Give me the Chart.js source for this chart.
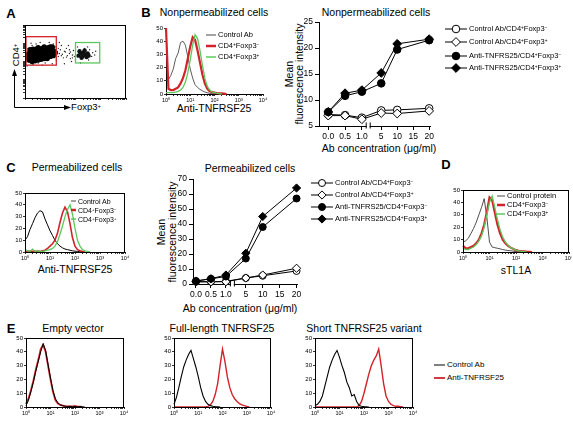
<!DOCTYPE html>
<html>
<head>
<meta charset="utf-8">
<script src="https://cdn.jsdelivr.net/npm/chart.js@4.4.1/dist/chart.umd.min.js"></script>
<style>
  body { margin:0; width:573px; height:421px; position:relative; overflow:hidden; background:#fff;
         font-family:"Liberation Sans", Arial, sans-serif; color:#000; }
  canvas { position:absolute; }
  .t { position:absolute; white-space:nowrap; line-height:1; transform:translate(-50%,-50%); }
  .v { position:absolute; white-space:nowrap; line-height:1; transform:translate(-50%,-50%) rotate(-90deg); }
  .p { font-weight:bold; font-size:13px; }
  .h { font-size:10.5px; }
  sup { font-size:0.62em; vertical-align:0.45em; line-height:0; }
  .lg { position:absolute; display:flex; align-items:center; white-space:nowrap; transform:translateY(-50%); line-height:1; }
  .lg svg { display:block; margin-right:2px; }
</style>
</head>
<body>

<!-- panel letters and titles -->
<div class="t p" style="left:11px;top:13px">A</div>
<div class="t p" style="left:146px;top:12px">B</div>
<div class="t p" style="left:11px;top:167px">C</div>
<div class="t p" style="left:446px;top:164px">D</div>
<div class="t p" style="left:11px;top:328px">E</div>

<div class="t h" style="left:214px;top:12px">Nonpermeabilized cells</div>
<div class="t h" style="left:376px;top:12px">Nonpermeabilized cells</div>
<div class="t h" style="left:77px;top:167px">Permeabilized cells</div>
<div class="t h" style="left:250px;top:168px">Permeabilized cells</div>
<div class="t h" style="left:73px;top:328px">Empty vector</div>
<div class="t h" style="left:222px;top:328px">Full-length TNFRSF25</div>
<div class="t h" style="left:364px;top:328px">Short TNFRSF25 variant</div>

<div class="t h" style="left:214px;top:108px">Anti-TNFRSF25</div>
<div class="t h" style="left:75px;top:269px">Anti-TNFRSF25</div>
<div class="t h" style="left:516px;top:270px">sTL1A</div>

<div class="t h" style="left:379px;top:148px">Ab concentration (μg/ml)</div>
<div class="t h" style="left:240px;top:308px">Ab concentration (μg/ml)</div>
<div class="v h" style="left:289px;top:74px">Mean</div>
<div class="v h" style="left:299px;top:74px">fluorescence intensity</div>
<div class="v h" style="left:161px;top:232px">Mean</div>
<div class="v h" style="left:172px;top:232px">fluorescence intensity</div>

<div class="v" style="left:16px;top:55px;font-size:9.5px">CD4<sup>+</sup></div>
<div class="t" style="left:86px;top:107px;font-size:9.5px">Foxp3<sup>+</sup></div>
<svg style="position:absolute;left:0;top:0" width="120" height="115">
  <path d="M14.5 107.5 V74 M14.5 107.5 H66" stroke="#000" stroke-width="1" fill="none"/>
  <polygon points="14.5,69 12,76 17,76" fill="#000"/>
  <polygon points="71,107.5 64,105 64,110" fill="#000"/>
</svg>

<script>
const FONT = '"Liberation Sans", Arial, sans-serif';
Chart.defaults.font.family = FONT;
Chart.defaults.color = '#000';

// ---------- panel A: dot plot (arbitrary units 0-100) ----------
const aCore = [[4,57],[6,55],[6,60],[8,58],[8,63],[10,56],[10,61],[12,59],[12,64],[14,57],[14,62],
  [16,60],[16,65],[18,58],[18,63],[20,61],[20,66],[22,59],[22,64],[24,62],[24,67],[26,63],[27,66],
  [9,53],[15,54],[21,56],[5,63],[11,67],[17,68],[23,69],[3,60],[28,61],
  [4,52],[7,50],[10,51],[13,52],[16,53],[19,54],[22,54],[25,57],[28,58],[5,66],[8,67],[13,69],
  [19,70],[25,70],[27,70],[29,64],[30,62],[3,55]];
const aFoxCore = [[53,58],[55,61],[57,57],[58,62],[60,59],[62,61],[56,55],[61,56],[54,64],[59,65],[63,58]];
const aSparse = [[2,50],[3,68],[7,72],[13,48],[19,72],[25,55],[29,60],[30,70],[32,63],[33,57],[35,66],
  [37,60],[38,55],[40,63],[42,58],[44,61],[45,54],[47,59],[48,65],[50,52],[36,72],[41,68],[46,50],
  [28,74],[31,52],[66,57],[67,62],[64,66],[63,52],[69,59],[52,70],[59,68],[15,76],[8,46],[20,48],
  [34,76],[43,72],[55,48],[70,64],[27,47],[11,74],[4,49],[39,47],[62,70],[49,57],[31,66],[34,61],
  [36,58],[39,64],[41,56],[44,66],[45,63],[47,55],[30,58],[33,68],[2,44],[6,75],[24,76],[17,45]];
const aRedGate = [1, 31, 45, 84];     // x0, x1, y0, y1
const aGreenGate = [50, 74, 48, 76];
const aDecadeOffsets = [0, 7.5, 11.9, 15.1, 17.5, 19.5, 21.1, 22.6, 23.9];

// ---------- histograms: bins (fluorescence) and counts ----------
const bins = [1,1.26,1.58,2,2.51,3.16,3.98,5.01,6.31,7.94,10,12.6,15.8,20,25.1,31.6,39.8,50.1,63.1,79.4,
  100,126,158,200,251,316,398,501,631,794,1000,1259,1585,1995,2512,3162,3981,5012,6310,7943,10000];
const histDecades = [1, 10, 100, 1000, 10000];
const histDecadeLabels = ['10⁰', '10¹', '10²', '10³', '10⁴'];
const histMinor = [2, 3, 4, 5, 6, 7, 8, 9];
const histYTicks = [0, 10, 20, 30, 40, 50];

const bCtrl = [10,11,14,19,27,31,39,40,37,28,19,12,7,5,3.5,2.5,1.5,1,0.5,0.3,0];
const bNeg  = [50,4,3,3,4,5,8,12,18,27,36,43,41,33,24,15,8,4,2,1.5,1,0.7,0.5,0.4,0.3,0];
const bPos  = [1,1,1,1,1.5,2,3,5,9,16,26,37,45,42,33,22,12,6,3,1.5,1,0.5,0.3,0];

const cCtrl = [10,13,19,24,29,33,35,34,28,23,18,14,10,7,5,3.5,2.5,2,1.5,1,0.7,0.5,0.3,0];
const cNeg  = [1,0.5,0.5,0.5,0.5,0.5,0.5,1,1.5,3,5,7,10,16,25,33,38,34,24,12,5,2,1,0.5,0];
const cPos  = [2,1,0.5,2.5,0.5,1,0.5,0.5,1,1.5,2,3,5,9,15,22,30,36,40,32,20,10,5,2,1,0.5,0];

const dCtrl = [8,9,11,15,19,24,30,36,43,28,8,4,3.5,3,2.5,2,1.5,1.2,1,0.6,0.4,0.2,0];
const dNeg  = [5,3,3,4,5,7,10,15,22,32,44,42,32,22,15,10,7,5,3.5,2.5,1.5,1,0.7,0.5,0.3,0.2,0];
const dPos  = [3,2,2,3,4,6,9,13,20,30,40,45,36,26,18,12,8,5.5,3.5,2.5,1.5,1,0.5,0.3,0];

const eEmptyCtrl = [1,5,11,18,26,33,40,46,41,31,21,12,6,3,1.5,1,0.6,0.4,0.3,0.5,0.3,0.2,0.4,0.2,0];
const eEmptyAnti = [2,6,12,19,27,34,42,45,40,30,20,11,5,2.5,1.5,1,0.5,0.4,0.6,0.3,0.8,0.3,0.2,0];
const eFullCtrl  = [2,7,14,22,29,34,38,41,35,29,22,14,8,4,2,1,0.5,0.3,0.2,0];
const eFullAnti  = [0,0,0,0,0,0,0,0,0,0,0,0,0,0,0.5,1.5,4,9,17,30,42,33,22,14,9,6,4,2.5,1.5,1,0.5,0];
const eShortCtrl = [1,2,4,8,15,22,29,34,38,41,36,30,25,18,14,8,9,4,1,0.5,0.3,0.2,0];
const eShortAnti = [0,0,0,0,0,0,0,0,0,0,0,0,0,0,0,0,0,0,1,4,10,17,24,30,34,37,42,30,17,8,4,2,1,0.5,0.5,0.3,0];

// ---------- dose curves ----------
const conc = [0, 0.5, 1, 5, 10, 20];
const concTicks = [0, 0.5, 1, 5, 10, 15, 20];
const concTickLabels = ['0.0', '0.5', '1.0', '5', '10', '15', '20'];
const doseLabels = ['Control Ab/CD4<sup>+</sup>Foxp3<sup>−</sup>', 'Control Ab/CD4<sup>+</sup>Foxp3<sup>+</sup>',
  'Anti-TNFRS25/CD4<sup>+</sup>Foxp3<sup>−</sup>', 'Anti-TNFRS25/CD4<sup>+</sup>Foxp3<sup>+</sup>'];

const bCtrlNeg = [7.2, 7.1, 6.6, 8.0, 8.1, 8.4];
const bCtrlPos = [7.0, 7.0, 6.3, 7.5, 7.4, 7.9];
const bAntiNeg = [7.7, 10.8, 11.6, 13.2, 19.7, 21.5];
const bAntiPos = [7.7, 11.3, 11.9, 15.2, 20.8, 21.7];

const cCtrlNeg = [1.5, 1.5, 1.8, 4.0, 5.5, 8.7];
const cCtrlPos = [1.5, 1.5, 1.5, 4.0, 6.0, 10.5];
const cAntiNeg = [2.0, 3.5, 5.0, 17.0, 38.0, 57.0];
const cAntiPos = [2.0, 3.5, 6.0, 20.5, 45.0, 64.0];

// ---------- helpers ----------
const RED = '#d2232a', GREEN = '#5cc85c';

function place(area, pad, cfg) {
  const w = area[2] - area[0] + pad[3] + pad[1];
  const h = area[3] - area[1] + pad[0] + pad[2];
  const cv = document.createElement('canvas');
  cv.width = w; cv.height = h;
  cv.style.left = (area[0] - pad[3]) + 'px';
  cv.style.top = (area[1] - pad[0]) + 'px';
  cv.style.width = w + 'px'; cv.style.height = h + 'px';
  document.body.appendChild(cv);
  const o = cfg.options;
  o.responsive = false; o.animation = false; o.events = []; o.devicePixelRatio = 1;
  o.layout = { padding: { top: pad[0], right: pad[1], bottom: 0, left: 0 } };
  o.plugins = { legend: { display: false }, tooltip: { enabled: false } };
  o.scales.x.afterFit = s => { s.height = pad[2]; s.paddingLeft = 0; s.paddingRight = 0; };
  o.scales.y.afterFit = s => { s.width = pad[3]; s.paddingTop = 0; s.paddingBottom = 0; };
  return new Chart(cv, cfg);
}

const boxPlugin = {
  id: 'box',
  afterDraw(c) {
    const a = c.chartArea, x = c.ctx;
    x.save(); x.strokeStyle = '#000'; x.lineWidth = 1;
    x.strokeRect(Math.round(a.left) + 0.5, Math.round(a.top) + 0.5,
                 Math.round(a.right - a.left) - 1, Math.round(a.bottom - a.top));
    x.restore();
  }
};

function axisLine(extra) {
  return Object.assign({
    grid: { display: true, drawOnChartArea: false, drawTicks: true, tickLength: 2, color: '#000', lineWidth: 0.8 },
    border: { display: true, color: '#000', width: 1 }
  }, extra);
}

function histTicks() {
  const out = [];
  histDecades.forEach((d, i) => {
    out.push({ value: d });
    if (i < histDecades.length - 1) histMinor.forEach(m => out.push({ value: d * m }));
  });
  return out;
}

function histSeries(vals, color, width) {
  return {
    data: vals.map((v, i) => ({ x: bins[i], y: v })),
    borderColor: color, borderWidth: width, pointRadius: 0, tension: 0, fill: false, clip: false
  };
}

function hist(area, pad, series, boxed) {
  return place(area, pad, {
    type: 'line',
    data: { datasets: series },
    options: {
      scales: {
        x: axisLine({
          type: 'logarithmic', min: 1, max: 10000,
          afterBuildTicks: s => { s.ticks = histTicks(); },
          ticks: { autoSkip: false, maxRotation: 0, padding: 1, font: { size: 5.5 },
                   callback: v => { const k = histDecades.indexOf(v); return k >= 0 ? histDecadeLabels[k] : ''; } }
        }),
        y: axisLine({
          type: 'linear', min: 0, max: 50,
          afterBuildTicks: s => { s.ticks = histYTicks.map(v => ({ value: v })); },
          ticks: { padding: 1, font: { size: 6 } }
        })
      }
    },
    plugins: boxed ? [boxPlugin] : []
  });
}

function pos(c, gap, step) { return c <= 1 ? c * 2 : gap + (c - 5) / 5 * step; }

function dose(area, pad, yMin, yMax, yStep, gap, step, xMin, xMax, vals, r) {
  const mk = (arr, shape, fill, rad) => ({
    data: conc.map((c, i) => ({ x: pos(c, gap, step), y: arr[i] })),
    borderColor: '#000', borderWidth: 1, tension: 0, fill: false, clip: false,
    pointStyle: shape, pointRadius: rad, pointBorderWidth: 1,
    pointBackgroundColor: fill, pointBorderColor: '#000'
  });
  const breakAt = 2 + (gap - 2) * 0.3;
  const breakPlugin = {
    id: 'brk',
    afterDraw(c) {
      const x = c.ctx, px = c.scales.x.getPixelForValue(breakAt), py = c.chartArea.bottom + 0.5;
      x.save(); x.fillStyle = '#fff'; x.fillRect(px - 1, py - 1, 3, 2);
      x.strokeStyle = '#000'; x.lineWidth = 1;
      x.beginPath(); x.moveTo(px - 1.5, py - 4); x.lineTo(px - 1.5, py + 2);
      x.moveTo(px + 2.5, py - 4); x.lineTo(px + 2.5, py + 2); x.stroke(); x.restore();
    }
  };
  return place(area, pad, {
    type: 'line',
    data: { datasets: [
      mk(vals[3], 'rectRot', '#000', r + 0.6), mk(vals[2], 'circle', '#000', r),
      mk(vals[1], 'rectRot', '#fff', r + 0.6), mk(vals[0], 'circle', '#fff', r)
    ] },
    options: {
      scales: {
        x: axisLine({
          type: 'linear', min: xMin, max: xMax,
          grid: { display: true, drawOnChartArea: false, tickLength: 4, color: '#000' },
          afterBuildTicks: s => { s.ticks = concTicks.map(c => ({ value: pos(c, gap, step) })); },
          ticks: { autoSkip: false, maxRotation: 0, padding: 2, font: { size: 8.5 },
                   callback: (v, i) => concTickLabels[i] }
        }),
        y: axisLine({
          type: 'linear', min: yMin, max: yMax,
          grid: { display: true, drawOnChartArea: false, tickLength: 4, color: '#000' },
          ticks: { stepSize: yStep, padding: 2, font: { size: 8.5 } }
        })
      }
    },
    plugins: [breakPlugin]
  });
}

function legendRow(x, y, html, fs, sw) {
  const d = document.createElement('div');
  d.className = 'lg';
  d.style.left = x + 'px'; d.style.top = y + 'px'; d.style.fontSize = fs + 'px';
  d.innerHTML = sw + '<span>' + html + '</span>';
  document.body.appendChild(d);
}
function lineSwatch(w, color, lw) {
  return `<svg width="${w}" height="8"><line x1="0" y1="4" x2="${w}" y2="4" stroke="${color}" stroke-width="${lw}"/></svg>`;
}
function markerSwatch(w, shape, fill, r) {
  const c = w / 2;
  const m = shape === 'circle'
    ? `<circle cx="${c}" cy="5" r="${r}" fill="${fill}" stroke="#000"/>`
    : `<polygon points="${c - r - 0.6},5 ${c},${5 - r - 0.6} ${c + r + 0.6},5 ${c},${5 + r + 0.6}" fill="${fill}" stroke="#000"/>`;
  return `<svg width="${w}" height="10"><line x1="0" y1="5" x2="${w}" y2="5" stroke="#000"/>${m}</svg>`;
}

// ---------- panel A ----------
const aTicks = [];
[0, 25, 50, 75].forEach(d => aDecadeOffsets.forEach(o => aTicks.push({ value: d + o })));
aTicks.push({ value: 100 });
place([25, 23, 128, 98], [2, 2, 4, 4], {
  type: 'scatter',
  data: { datasets: [
    { data: aCore.map(p => ({ x: p[0], y: p[1] })), pointRadius: 2.7, backgroundColor: '#000', borderWidth: 0 },
    { data: aFoxCore.map(p => ({ x: p[0], y: p[1] })), pointRadius: 2.2, backgroundColor: '#111', borderWidth: 0 },
    { data: aSparse.map(p => ({ x: p[0], y: p[1] })), pointRadius: 0.7, backgroundColor: '#222', borderWidth: 0 }
  ] },
  options: {
    scales: {
      x: axisLine({ type: 'linear', min: 0, max: 100, afterBuildTicks: s => { s.ticks = aTicks.slice(); },
                    ticks: { autoSkip: false, callback: () => '', padding: 0, font: { size: 1 } } }),
      y: axisLine({ type: 'linear', min: 0, max: 100, afterBuildTicks: s => { s.ticks = aTicks.slice(); },
                    ticks: { autoSkip: false, callback: () => '', padding: 0, font: { size: 1 } } })
    }
  },
  plugins: [boxPlugin, {
    id: 'gates',
    afterDatasetsDraw(c) {
      const x = c.ctx, sx = c.scales.x, sy = c.scales.y;
      [[aRedGate, RED], [aGreenGate, GREEN]].forEach(([g, col]) => {
        const l = sx.getPixelForValue(g[0]), r = sx.getPixelForValue(g[1]);
        const t = sy.getPixelForValue(g[3]), b = sy.getPixelForValue(g[2]);
        x.save(); x.strokeStyle = col; x.lineWidth = 1.3; x.strokeRect(l, t, r - l, b - t); x.restore();
      });
    }
  }]
});

// ---------- histograms ----------
hist([166, 28, 263, 94], [4, 6, 10, 12],
  [histSeries(bPos, GREEN, 1.3), histSeries(bNeg, RED, 2.2), histSeries(bCtrl, '#333', 0.8)], false);
hist([25, 193, 125, 252], [4, 6, 10, 12],
  [histSeries(cPos, GREEN, 1.3), histSeries(cNeg, RED, 1.6), histSeries(cCtrl, '#000', 1)], true);
hist([463, 190, 569, 252], [4, 3, 10, 12],
  [histSeries(dPos, GREEN, 1.3), histSeries(dNeg, RED, 2.2), histSeries(dCtrl, '#222', 0.8)], true);
hist([26, 338, 124, 407], [4, 6, 10, 12],
  [histSeries(eEmptyCtrl, '#000', 1), histSeries(eEmptyAnti, RED, 1.8)], true);
hist([174, 338, 271, 407], [4, 6, 10, 12],
  [histSeries(eFullCtrl, '#000', 1.1), histSeries(eFullAnti, RED, 1.4)], true);
hist([315, 338, 413, 407], [4, 6, 10, 12],
  [histSeries(eShortCtrl, '#000', 1.1), histSeries(eShortAnti, RED, 1.4)], true);

// ---------- dose curves ----------
dose([319, 22, 430, 126], [6, 8, 16, 20], 5, 25, 5, 3.15, 0.95, -0.55, 6.05,
  [bCtrlNeg, bCtrlPos, bAntiNeg, bAntiPos], 3.8);
dose([193, 179, 297, 284], [6, 8, 16, 20], 0, 70, 10, 3.33, 1.13, -0.2, 6.75,
  [cCtrlNeg, cCtrlPos, cAntiNeg, cAntiPos], 3.5);

// ---------- legends ----------
const histLegendB = ['Control Ab', 'CD4<sup>+</sup>Foxp3<sup>−</sup>', 'CD4<sup>+</sup>Foxp3<sup>+</sup>'];
const histLegendD = ['Control protein', 'CD4<sup>+</sup>Foxp3<sup>−</sup>', 'CD4<sup>+</sup>Foxp3<sup>+</sup>'];
const histLegendE = ['Control Ab', 'Anti-TNFRSF25'];
const histColors = [['#333', 0.9], [RED, 2.5], [GREEN, 1.5]];

[35, 46, 57].forEach((y, i) => legendRow(206, y, histLegendB[i], 7.5, lineSwatch(10, histColors[i][0], histColors[i][1])));
[201, 210, 219].forEach((y, i) => legendRow(71, y, histLegendB[i], 7, lineSwatch(5, histColors[i][0], histColors[i][1])));
[196, 205, 214].forEach((y, i) => legendRow(497, y, histLegendD[i], 7.5, lineSwatch(8, histColors[i][0], histColors[i][1])));
[365, 378].forEach((y, i) => legendRow(434, y, histLegendE[i], 8,
  lineSwatch(11, i ? RED : '#000', i ? 1.8 : 1) ));

const doseMarks = [['circle', '#fff'], ['diamond', '#fff'], ['circle', '#000'], ['diamond', '#000']];
[29, 42, 56, 68].forEach((y, i) => legendRow(445, y, doseLabels[i], 7.5, markerSwatch(22, doseMarks[i][0], doseMarks[i][1], 3.8)));
[183, 195, 207, 219].forEach((y, i) => legendRow(311, y, doseLabels[i], 7.5, markerSwatch(22, doseMarks[i][0], doseMarks[i][1], 3.5)));
</script>
</body>
</html>
